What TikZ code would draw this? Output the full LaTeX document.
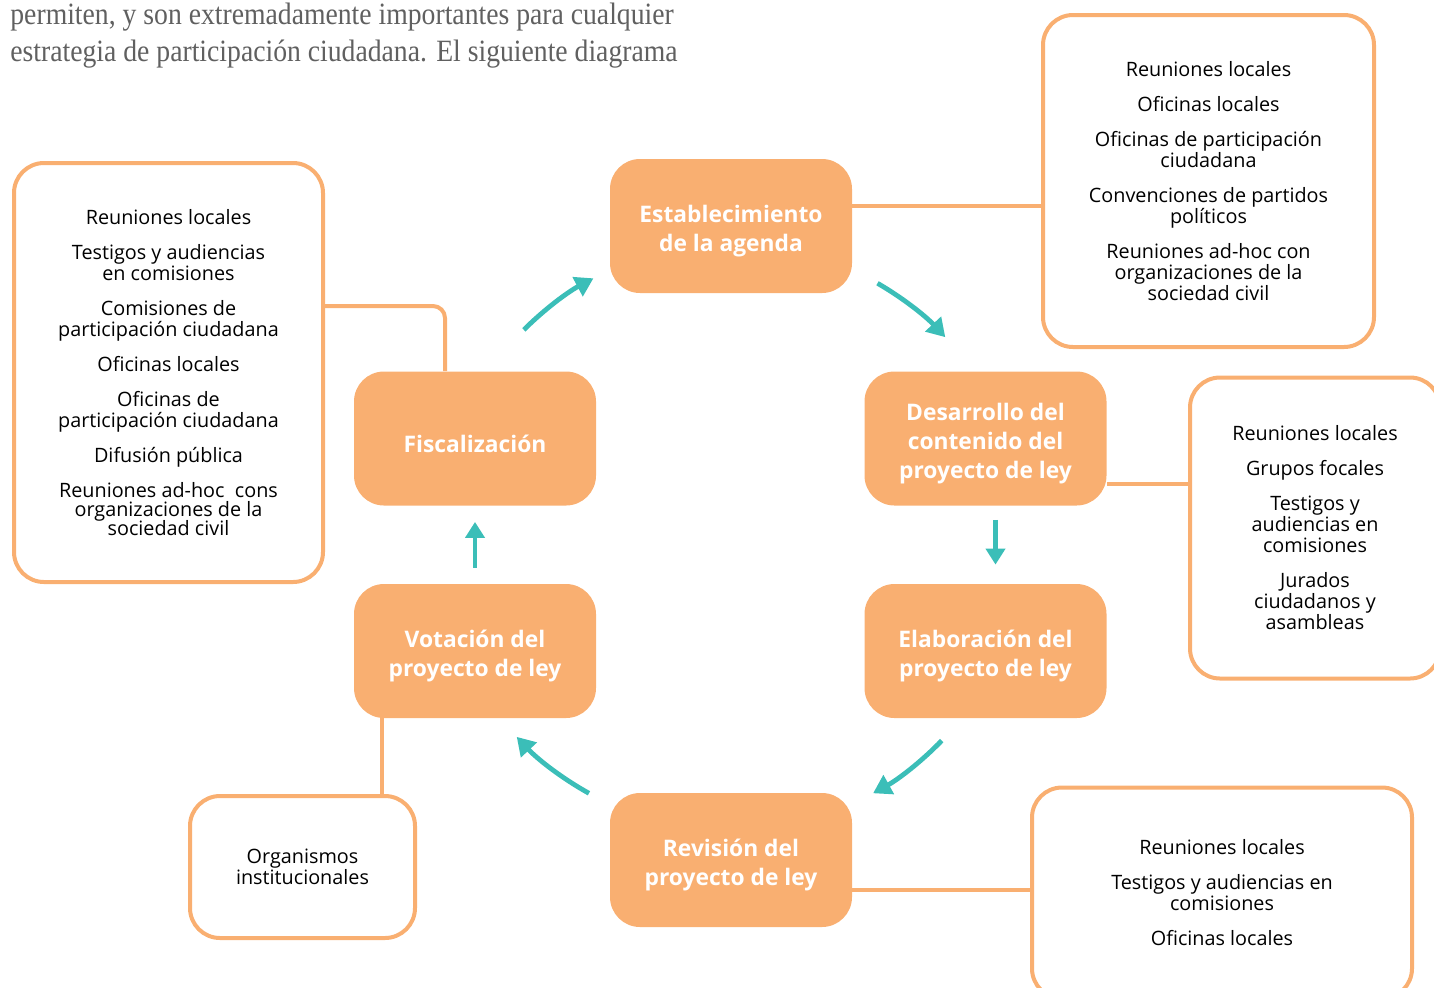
\documentclass[tikz,border=0pt]{standalone}
\usepackage{fontspec}
\setmainfont{Open Sans}
\newfontfamily\serifhead[FakeStretch=0.893]{Liberation Serif}
\usetikzlibrary{arrows.meta,calc}
\definecolor{orfill}{HTML}{F9AF71}
\definecolor{tealc}{HTML}{3BBEB8}
\definecolor{headgray}{HTML}{606060}
\newcommand\stagebox[3]{%
  \node[stage] (#1) at (#2) {};
  \node[stagetext] (#1-t) at ([yshift=-2.5pt]#1.center) {#3};}
\begin{document}
\begin{tikzpicture}[x=0.5pt,y=-0.5pt,
  stage/.style={fill=orfill, rounded corners=15pt,
    minimum width=121pt, minimum height=67pt, inner sep=0pt},
  stagetext/.style={text=white, font=\bfseries\fontsize{11.4}{14.4}\selectfont,
    align=center, inner sep=0pt},
  info/.style={draw=orfill, line width=2pt, rounded corners=15pt, fill=white,
    align=center, font=\fontsize{9.9}{10.5}\selectfont, inner sep=0pt},
  headtext/.style={anchor=base west, font=\serifhead\fontsize{15.5}{18.5}\selectfont,
    text=headgray, inner sep=0pt},
  link/.style={draw=orfill, line width=2pt},
  cyc/.style={draw=tealc, line width=2.4pt, -{Triangle[width=10.5pt,length=9pt]}},
  vcyc/.style={draw=tealc, line width=2.1pt, -{Triangle[width=9.5pt,length=8pt]}}]
\clip (0,0) rectangle (1434,987);
\useasboundingbox (0,0) rectangle (1434,987);

% heading
\node[headtext] (head1) at (10,24) {permiten, y son extremadamente importantes para cualquier};
\node[headtext] (head2) at (10,61) {estrategia de participación ciudadana. El siguiente diagrama};

% stage boxes
\stagebox{estab}{731,226}{Establecimiento\\de la agenda}
\stagebox{desar}{985.5,438.5}{Desarrollo del\\contenido del\\proyecto de ley}
\stagebox{elab}{985.5,651}{Elaboración del\\proyecto de ley}
\stagebox{revis}{731,860}{Revisión del\\proyecto de ley}
\stagebox{vot}{475,651}{Votación del\\proyecto de ley}
\stagebox{fisc}{475,438.5}{Fiscalización}

% info boxes
\node[info, minimum width=154.5pt, minimum height=209.5pt] (lb) at (168.5,372.5)
  {Reuniones locales\\[7pt]
   Testigos y audiencias\\en comisiones\\[7pt]
   Comisiones de\\participación ciudadana\\[7pt]
   Oficinas locales\\[7pt]
   Oficinas de\\participación ciudadana\\[7pt]
   Difusión pública\\[7pt]
   Reuniones ad-hoc\ \ cons\\[-1pt]organizaciones de la\\[-1pt]sociedad civil};
\node[info, minimum width=165.5pt, minimum height=166pt] (tr) at (1208.5,181)
  {Reuniones locales\\[7pt]
   Oficinas locales\\[7pt]
   Oficinas de participación\\ciudadana\\[7pt]
   Convenciones de partidos\\políticos\\[7pt]
   Reuniones ad-hoc con\\organizaciones de la\\sociedad civil};
\node[info, minimum width=125pt, minimum height=150.5pt] (rm) at (1315,528)
  {Reuniones locales\\[7pt]
   Grupos focales\\[7pt]
   Testigos y\\audiencias en\\comisiones\\[7pt]
   Jurados\\ciudadanos y\\asambleas};
\node[info, minimum width=190pt, minimum height=105.5pt] (br) at (1222,893)
  {Reuniones locales\\[7pt]
   Testigos y audiencias en\\comisiones\\[7pt]
   Oficinas locales};
\node[info, minimum width=112.5pt, minimum height=71pt] (org) at (302.5,867)
  {Organismos\\institucionales};

% orange connectors
\coordinate (a1) at ([yshift=10pt]estab.east);
\draw[link] (a1) -- (a1 -| tr.west);
\coordinate (a2) at ([yshift=-22.75pt]desar.east);
\draw[link] (a2) -- (a2 -| rm.west);
\coordinate (a3) at ([yshift=-15pt]revis.east);
\draw[link] (a3) -- (a3 -| br.west);
\coordinate (a4) at ([xshift=-15pt]fisc.north);
\draw[link, rounded corners=6pt] (lb.east |- 0,306) -| (a4);
\coordinate (a5) at ([xshift=-46.5pt]vot.south);
\draw[link] (a5) -- (a5 |- org.north);

% teal cycle arrows
\coordinate (c) at (731,537);
\draw[cyc] ($(c)+(135:146.5pt)$) arc[start angle=135, end angle=118, radius=146.5pt];
\draw[cyc] ($(c)+(60:146.5pt)$) arc[start angle=60, end angle=43, radius=146.5pt];
\draw[vcyc] ([xshift=5pt,yshift=-7pt]desar.south) -- ([xshift=5pt,yshift=9.5pt]elab.north);
\draw[cyc] ($(c)+(-44:146.5pt)$) arc[start angle=-44, end angle=-61, radius=146.5pt];
\draw[cyc] ($(c)+(241:146.5pt)$) arc[start angle=241, end angle=223, radius=146.5pt];
\draw[vcyc] ([yshift=8pt]vot.north) -- ([yshift=-8pt]fisc.south);
\end{tikzpicture}
\end{document}
